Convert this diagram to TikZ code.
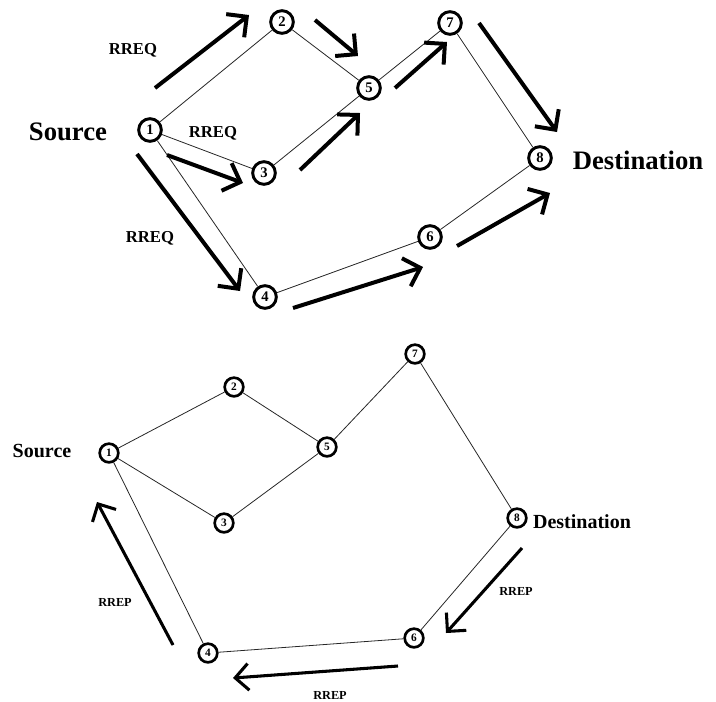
\documentclass[tikz,border=0pt]{standalone}
\usepackage{fontspec}
\setmainfont{Liberation Serif}
\usetikzlibrary{arrows.meta}
\tikzset{
  nodeA/.style={circle,draw,line width=2.2pt,minimum size=17pt,inner sep=0pt,font=\fontsize{11}{11}\selectfont\bfseries},
  nodeB/.style={circle,draw,line width=2pt,minimum size=14pt,inner sep=0pt,font=\fontsize{8.5}{8.5}\selectfont\bfseries},
  link/.style={line width=0.6pt,black!85},
  bigarrow/.style={line width=3pt,-{Straight Barb[length=11pt,width=22pt,line width=3pt]}},
  smallarrow/.style={line width=2.3pt,-{Straight Barb[length=10pt,width=20pt,line width=2.3pt]}},
  bigtxt/.style={font=\fontsize{20}{20}\selectfont\bfseries},
  midtxt/.style={font=\fontsize{15}{15}\selectfont\bfseries},
  reqtxt/.style={font=\fontsize{12.5}{12.5}\selectfont\bfseries},
  reptxt/.style={font=\fontsize{9.2}{9.2}\selectfont\bfseries}
}
\begin{document}
\begin{tikzpicture}[x=0.75pt,y=-0.75pt]
\useasboundingbox (0,0) rectangle (716,701);
% ---------- top diagram ----------
\node[nodeA] (a1) at (150,130) {1};
\node[nodeA] (a2) at (282,22) {2};
\node[nodeA] (a3) at (264,173) {3};
\node[nodeA] (a4) at (265,297) {4};
\node[nodeA] (a5) at (369,88) {5};
\node[nodeA] (a6) at (430,237) {6};
\node[nodeA] (a7) at (450,23) {7};
\node[nodeA] (a8) at (540,158) {8};
\draw[link] (a1) -- (a2);
\draw[link] (a1) -- (a3);
\draw[link] (a1) -- (a4);
\draw[link] (a2) -- (a5);
\draw[link] (a3) -- (a5);
\draw[link] (a5) -- (a7);
\draw[link] (a7) -- (a8);
\draw[link] (a4) -- (a6);
\draw[link] (a6) -- (a8);
\node[bigtxt] (srcA) at (68,132) {Source};
\node[bigtxt] (dstA) at (638,160) {Destination};
\node[reqtxt] (rq1) at (133,50) {RREQ};
\node[reqtxt] (rq2) at (213,133) {RREQ};
\node[reqtxt] (rq3) at (150,238) {RREQ};
\coordinate (t12s) at (155,88);  \coordinate (t12e) at (249,15);
\coordinate (t25s) at (315,20);  \coordinate (t25e) at (358,56);
\coordinate (t13s) at (167,155); \coordinate (t13e) at (243,183);
\coordinate (t35s) at (300,170); \coordinate (t35e) at (360,113);
\coordinate (t14s) at (137,154); \coordinate (t14e) at (240,291);
\coordinate (t57s) at (395,88);  \coordinate (t57e) at (447,42);
\coordinate (t78s) at (479,23);  \coordinate (t78e) at (557,132);
\coordinate (t46s) at (293,308); \coordinate (t46e) at (423,267);
\coordinate (t68s) at (457,246); \coordinate (t68e) at (550,193);
\draw[bigarrow] (t12s) -- (t12e);
\draw[bigarrow] (t25s) -- (t25e);
\draw[bigarrow] (t13s) -- (t13e);
\draw[bigarrow] (t35s) -- (t35e);
\draw[bigarrow] (t14s) -- (t14e);
\draw[bigarrow] (t57s) -- (t57e);
\draw[bigarrow] (t78s) -- (t78e);
\draw[bigarrow] (t46s) -- (t46e);
\draw[bigarrow] (t68s) -- (t68e);
% ---------- bottom diagram ----------
\node[nodeB] (b1) at (109,453) {1};
\node[nodeB] (b2) at (234,387) {2};
\node[nodeB] (b3) at (224,523) {3};
\node[nodeB] (b4) at (208,653) {4};
\node[nodeB] (b5) at (327,447) {5};
\node[nodeB] (b6) at (414,638) {6};
\node[nodeB] (b7) at (415,354) {7};
\node[nodeB] (b8) at (517,518) {8};
\draw[link] (b1) -- (b2);
\draw[link] (b1) -- (b3);
\draw[link] (b1) -- (b4);
\draw[link] (b2) -- (b5);
\draw[link] (b3) -- (b5);
\draw[link] (b5) -- (b7);
\draw[link] (b7) -- (b8);
\draw[link] (b4) -- (b6);
\draw[link] (b6) -- (b8);
\node[midtxt] (srcB) at (42,451) {Source};
\node[midtxt] (dstB) at (582,522) {Destination};
\node[reptxt] (rp1) at (115,602) {RREP};
\node[reptxt] (rp2) at (516,591) {RREP};
\node[reptxt] (rp3) at (330,695) {RREP};
\coordinate (u41s) at (173,645); \coordinate (u41e) at (97,502);
\coordinate (u86s) at (522,548); \coordinate (u86e) at (446,633);
\coordinate (u64s) at (398,666); \coordinate (u64e) at (233,678);
\draw[smallarrow] (u41s) -- (u41e);
\draw[smallarrow] (u86s) -- (u86e);
\draw[smallarrow] (u64s) -- (u64e);
\end{tikzpicture}
\end{document}
